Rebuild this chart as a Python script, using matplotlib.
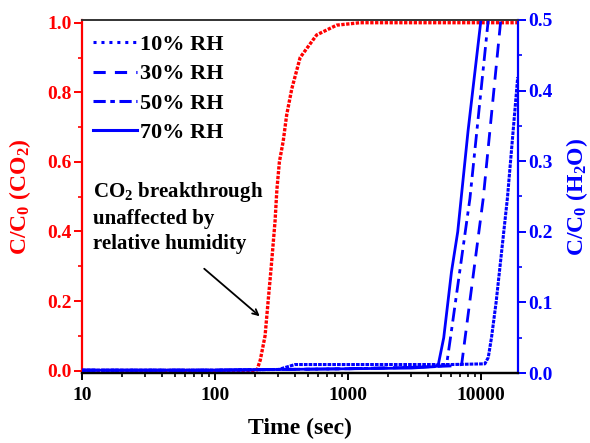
import matplotlib
matplotlib.use("Agg")
import matplotlib.pyplot as plt
from matplotlib.lines import Line2D
from matplotlib.ticker import FixedLocator, FuncFormatter, LogLocator, NullFormatter, MultipleLocator

plt.rcParams['font.family'] = ['Liberation Serif', 'DejaVu Serif']
plt.rcParams['font.weight'] = 'bold'
plt.rcParams['mathtext.fontset'] = 'custom'
plt.rcParams['mathtext.rm'] = 'Liberation Serif:bold'
plt.rcParams['mathtext.it'] = 'Liberation Serif:bold'
plt.rcParams['mathtext.bf'] = 'Liberation Serif:bold'

# ---- data ----
co2_t = [10, 50, 100, 150, 200, 207, 219, 238, 251, 265, 283, 292, 305, 326, 346, 378, 437, 582, 822, 1230, 5000, 19000]
co2_y = [0.0, 0.0, 0.0, 0.0, 0.0, 0.002, 0.03, 0.10, 0.20, 0.30, 0.43, 0.52, 0.60, 0.66, 0.735, 0.81, 0.90, 0.965, 0.993, 1.0, 1.0, 1.0]

rh10_t = [10, 100, 300, 400, 1000, 3000, 6000, 10700, 11350, 12000, 13000, 15800, 18900]
rh10_y = [0.004, 0.004, 0.005, 0.012, 0.012, 0.012, 0.012, 0.013, 0.022, 0.05, 0.10, 0.247, 0.419]

rh30_t = [10, 100, 300, 1000, 3000, 6000, 7160, 7600, 10400, 14100]
rh30_y = [0.004, 0.004, 0.005, 0.006, 0.008, 0.010, 0.012, 0.05, 0.247, 0.5]

rh50_t = [10, 100, 300, 1000, 3000, 5000, 5520, 5900, 8260, 11350]
rh50_y = [0.004, 0.004, 0.005, 0.006, 0.008, 0.010, 0.012, 0.05, 0.247, 0.5]

rh70_t = [10, 100, 300, 1000, 3000, 4500, 4780, 5250, 6000, 6690, 8000, 10000]
rh70_y = [0.004, 0.004, 0.005, 0.006, 0.007, 0.009, 0.012, 0.05, 0.143, 0.20, 0.343, 0.5]

rh_labels = ['10% RH', '30% RH', '50% RH', '70% RH']
x_ticks = [10, 100, 1000, 10000]
left_ticks = [0.0, 0.2, 0.4, 0.6, 0.8, 1.0]
right_ticks = [0.0, 0.1, 0.2, 0.3, 0.4, 0.5]

RED = '#ff0000'
BLUE = '#0000ff'

fig = plt.figure(figsize=(5.9, 4.43), dpi=100)
ax = fig.add_axes([0.139, 0.158, 0.739, 0.797])
ax2 = ax.twinx()

# CO2 curve (left axis)
ax.plot(co2_t, co2_y, color=RED, lw=2.4, linestyle=(0, (1, 0.45)))

# H2O curves (right axis)
lw = 2.0
ax2.plot(rh10_t, rh10_y, color=BLUE, lw=2.2, linestyle=(0, (1.2, 0.35)))
ax2.plot(rh30_t, rh30_y, color=BLUE, lw=lw, linestyle=(0, (5, 3)))
ax2.plot(rh50_t, rh50_y, color=BLUE, lw=lw, linestyle=(0, (5, 2, 1.5, 2)))
ax2.plot(rh70_t, rh70_y, color=BLUE, lw=lw, linestyle='-')

ax.set_xscale('log')
ax.set_xlim(10, 19000)
ax.set_ylim(-0.007, 1.008)
ax2.set_ylim(0.0, 0.5)

ax.xaxis.set_major_locator(FixedLocator(x_ticks))
ax.xaxis.set_major_formatter(FuncFormatter(lambda v, p: f"{int(round(v))}"))
ax.xaxis.set_minor_locator(LogLocator(base=10, subs=range(2, 10)))
ax.xaxis.set_minor_formatter(NullFormatter())

ax.yaxis.set_major_locator(FixedLocator(left_ticks))
ax.yaxis.set_major_formatter(FuncFormatter(lambda v, p: f"{v:.1f}"))
ax.yaxis.set_minor_locator(MultipleLocator(0.1))
ax2.yaxis.set_major_locator(FixedLocator(right_ticks))
ax2.yaxis.set_major_formatter(FuncFormatter(lambda v, p: f"{v:.1f}"))
ax2.yaxis.set_minor_locator(MultipleLocator(0.05))

# spines
for a in (ax, ax2):
    a.spines['top'].set_color('#333333')
    a.spines['top'].set_linewidth(1.2)
    a.spines['bottom'].set_color('black')
    a.spines['bottom'].set_linewidth(1.6)
ax.spines['left'].set_color(RED)
ax.spines['left'].set_linewidth(1.6)
ax2.spines['right'].set_color(BLUE)
ax2.spines['right'].set_linewidth(1.6)
ax2.spines['left'].set_visible(False)
ax.spines['right'].set_visible(False)

ax.tick_params(axis='x', which='major', direction='out', length=5, width=1.4, pad=5,
               labelsize=14, colors='black', top=False)
ax.tick_params(axis='x', which='minor', direction='out', length=3, width=1.2, top=False)
ax.tick_params(axis='y', which='major', direction='out', length=5.5, width=1.4, pad=2,
               labelsize=14, colors=RED)
ax.tick_params(axis='y', which='minor', direction='out', length=3, width=1.2, colors=RED)
ax2.tick_params(axis='y', which='major', direction='out', length=5.5, width=1.4, pad=2,
                labelsize=14, colors=BLUE)
ax2.tick_params(axis='y', which='minor', direction='out', length=3, width=1.2, colors=BLUE)

for lab in ax.get_xticklabels() + ax.get_yticklabels() + ax2.get_yticklabels():
    lab.set_fontweight('bold')

ax.set_xlabel('Time (sec)', fontsize=17, fontweight='bold', labelpad=10)
ax.set_ylabel('C/C$_0$ (CO$_2$)', fontsize=17, fontweight='bold', color=RED, labelpad=10)
ax2.set_ylabel('C/C$_0$ (H$_2$O)', fontsize=17, fontweight='bold', color=BLUE, labelpad=8)

# legend
handles = [
    Line2D([], [], color=BLUE, lw=2.2, linestyle=(0, (1, 1.6))),
    Line2D([], [], color=BLUE, lw=2.2, linestyle=(0, (4, 3))),
    Line2D([], [], color=BLUE, lw=2.2, linestyle=(0, (4, 1.5, 1.5, 1.5))),
    Line2D([], [], color=BLUE, lw=2.2, linestyle='-'),
]
leg = ax2.legend(handles, rh_labels, loc='upper left', bbox_to_anchor=(-0.009, 1.0),
                 frameon=False, handlelength=2.0, handletextpad=0.15,
                 labelspacing=0.4, borderaxespad=0.3, borderpad=0.35,
                 prop={'weight': 'bold', 'size': 16})

# annotation
ax.text(0.025, 0.548, 'CO$_2$ breakthrough\nunaffected by\nrelative humidity',
        transform=ax.transAxes, fontsize=15, fontweight='bold', va='top', ha='left',
        linespacing=1.35, color='black')
ax.annotate('', xy=(225, 0.151), xytext=(80, 0.298), xycoords='data', textcoords='data',
            arrowprops=dict(arrowstyle='->', color='black', lw=1.3))

fig.savefig('out.png', dpi=100)
